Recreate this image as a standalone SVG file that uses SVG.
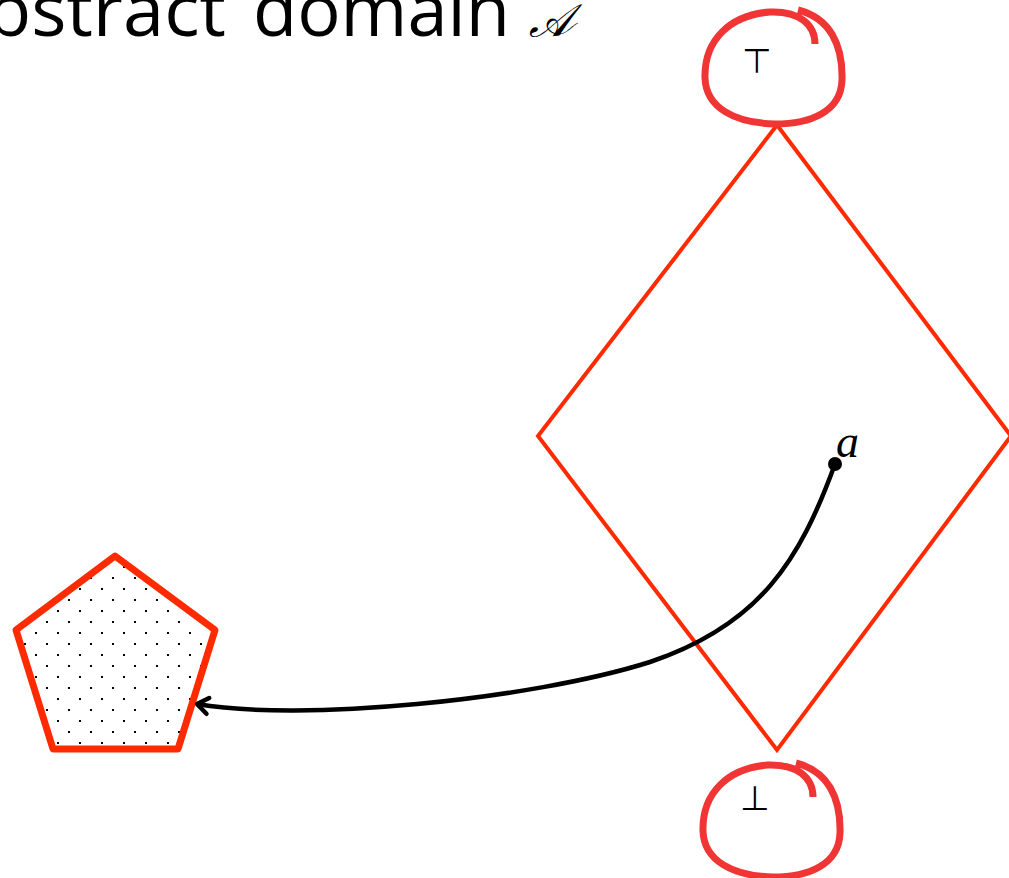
<svg xmlns="http://www.w3.org/2000/svg" width="1009" height="878" viewBox="0 0 1009 878">
  <defs>
    <pattern id="dots" width="22" height="22" patternUnits="userSpaceOnUse" x="2" y="5">
      <rect x="0" y="0" width="2" height="2" fill="#000"/>
      <rect x="11" y="11" width="2" height="2" fill="#000"/>
    </pattern>
    <marker id="chev" viewBox="0 0 24 24" refX="19" refY="12" markerWidth="24" markerHeight="24" markerUnits="userSpaceOnUse" orient="auto">
      <path d="M8,4 L19,12 L8,20" fill="none" stroke="#000" stroke-width="4.5" stroke-linecap="round" stroke-linejoin="round"/>
    </marker>
    <path id="loop" d="M798,10 C830,18 843,45 842,80 C841,112 810,124 775,124 C735,123 706,108 705,78 C704,40 730,15 770,12 C800,11 815,25 815,44"/>
  </defs>
  <style>
    .title { font-family: "Open Sans", "Noto Sans", sans-serif; font-size: 74px; fill: #000; }
    .script { font-family: "DejaVu Sans", "Noto Sans Math", serif; font-style: italic; font-size: 44px; }
    .sym { font-family: "DejaVu Sans", sans-serif; font-size: 34px; fill: #000; }
    .var { font-family: "Liberation Serif", serif; font-style: italic; font-size: 46px; fill: #000; }
    .lattice { fill: none; stroke: #ff2a00; stroke-width: 4; stroke-linejoin: miter; }
    .ring { fill: none; stroke: #f03535; stroke-width: 7; stroke-linecap: butt; }
    .poly { fill: url(#dots); stroke: #ff2a00; stroke-width: 7; stroke-linejoin: round; }
  </style>

  <text class="title" y="36"><tspan x="226" text-anchor="end">bstract</tspan><tspan x="253" textLength="257" lengthAdjust="spacingAndGlyphs">domain</tspan><tspan class="script" x="530">𝒜</tspan></text>

  <g id="lattice">
    <polygon class="lattice" points="777,125 1011,436 777,750 538,436"/>
  </g>

  <g id="top">
    <use href="#loop" class="ring"/>
    <text class="sym" x="742" y="73">⊤</text>
  </g>

  <g id="bottom">
    <use href="#loop" class="ring" transform="translate(-2,753)"/>
    <text class="sym" x="740" y="810">⊥</text>
  </g>

  <g id="element-a">
    <circle cx="835" cy="464" r="7" fill="#000"/>
    <text class="var" x="836" y="457">a</text>
  </g>

  <g id="shape">
    <polygon class="poly" points="115,556 215,630 178,749 53,749 16,630"/>
  </g>

  <g id="connectors">
    <path d="M835,464 C800,560 760,625 650,662 C530,700 300,722 197,704" fill="none" stroke="#000" stroke-width="4.5" marker-end="url(#chev)"/>
  </g>
</svg>
